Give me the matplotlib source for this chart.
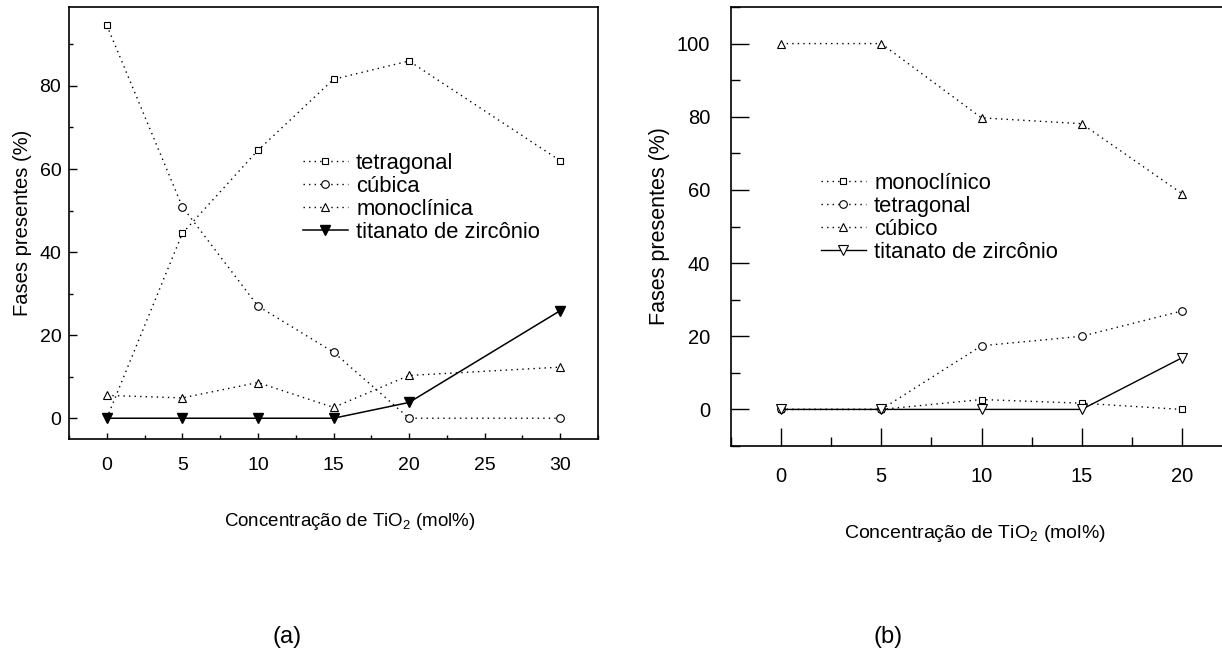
import matplotlib; matplotlib.use("Agg")
import matplotlib.pyplot as plt
from matplotlib.ticker import MultipleLocator

plt.rcParams['font.family'] = ['Liberation Sans', 'DejaVu Sans']
plt.rcParams['mathtext.fontset'] = 'custom'
plt.rcParams['mathtext.rm'] = 'Liberation Sans'

# (a)
xa = [0, 5, 10, 15, 20, 30]
a_tetragonal = [0, 44.5, 64.5, 81.6, 86.0, 62.0]
a_cubica = [94.6, 50.9, 27.0, 15.9, 0, 0]
a_monoclinica = [5.5, 4.9, 8.6, 2.6, 10.3, 12.3]
a_titanato = [0, 0, 0, 0, 3.8, 25.9]
a_labels = ["tetragonal", "cúbica", "monoclínica", "titanato de zircônio"]

# (b)
xb = [0, 5, 10, 15, 20]
b_monoclinico = [0, 0, 2.7, 1.7, 0]
b_tetragonal = [0, 0, 17.4, 20.0, 26.9]
b_cubico = [100, 100, 79.7, 78.1, 59.0]
b_titanato = [0, 0, 0, 0, 14.1]
b_labels = ["monoclínico", "tetragonal", "cúbico", "titanato de zircônio"]

W, H = 1222, 655
fig = plt.figure(figsize=(W / 100, H / 100), dpi=100)
fig.patch.set_facecolor("white")

dot = (0, (1, 3))
mk = dict(color="black", markerfacecolor="white", markeredgecolor="black",
          markeredgewidth=0.8, lw=1.0)


def px_axes(l, t, r, b):
    return fig.add_axes([l / W, 1 - b / H, (r - l) / W, (b - t) / H])


def fig_pt(x, y):
    return (x / W, 1 - y / H)


leg_kw = dict(loc="upper left", bbox_transform=fig.transFigure, frameon=False,
              fontsize=15.8, handlelength=2.05, handletextpad=0.37,
              labelspacing=0.09, borderpad=0, borderaxespad=0)

# ---------- (a) ----------
ax = px_axes(69, 7, 598, 439)
ax.plot(xa, a_tetragonal, ls=dot, marker="s", ms=5, markevery=list(range(1, 6)), label=a_labels[0], **mk)
ax.plot(xa, a_cubica, ls=dot, marker="o", ms=5.5, markevery=list(range(1, 6)), label=a_labels[1], **mk)
ax.plot(xa[:1], a_cubica[:1], ls="none", marker="s", ms=5, **mk)
ax.plot(xa, a_monoclinica, ls=dot, marker="^", ms=6, label=a_labels[2], **mk)
ax.plot(xa, a_titanato, ls="-", marker="v", ms=7, color="black", lw=1.1, label=a_labels[3])
ax.set_xlim(-2.5, 32.5)
ax.set_ylim(-5, 99)
ax.xaxis.set_major_locator(MultipleLocator(5))
ax.xaxis.set_minor_locator(MultipleLocator(2.5))
ax.yaxis.set_major_locator(MultipleLocator(20))
ax.yaxis.set_minor_locator(MultipleLocator(10))
ax.tick_params(which="major", direction="in", length=5.5, width=1, labelsize=14, pad=5.5)
ax.tick_params(axis="x", which="major", length=4.5, pad=13)
ax.tick_params(which="minor", direction="in", length=3, width=1)
for s in ax.spines.values():
    s.set_linewidth(1.2)
ax.set_ylabel("Fases presentes (%)", fontsize=14.5)
ax.set_xlabel("Concentração de TiO$_2$ (mol%)", fontsize=13.5)
ax.yaxis.set_label_coords(-(69 - 23) / 529, 0.5)
ax.yaxis.label.set_va("center")
ax.xaxis.set_label_coords((350 - 69) / 529, -(521 - 439) / 432)
ax.xaxis.label.set_va("center")
ax.legend(bbox_to_anchor=fig_pt(303, 153), **leg_kw)

# ---------- (b) ----------
bx = px_axes(731, 7, 1232, 446)
bx.plot(xb, b_monoclinico, ls=dot, marker="s", ms=5, label=b_labels[0], **mk)
bx.plot(xb, b_tetragonal, ls=dot, marker="o", ms=5.5, label=b_labels[1], **mk)
bx.plot(xb, b_cubico, ls=dot, marker="^", ms=6, label=b_labels[2], **mk)
bx.plot(xb, b_titanato, ls="-", marker="v", ms=7, label=b_labels[3], **mk)
bx.set_xlim(-2.5, 22.5)
bx.set_ylim(-10, 110)
bx.xaxis.set_major_locator(MultipleLocator(5))
bx.xaxis.set_minor_locator(MultipleLocator(2.5))
bx.yaxis.set_major_locator(MultipleLocator(20))
bx.yaxis.set_minor_locator(MultipleLocator(10))
bx.tick_params(which="major", direction="in", length=12.7, width=1, labelsize=14.5, pad=15)
bx.tick_params(axis="x", which="major", pad=15)
bx.tick_params(which="minor", direction="in", length=6.7, width=1)
bx.spines["right"].set_visible(False)
for s in bx.spines.values():
    s.set_linewidth(1.2)
bx.set_ylabel("Fases presentes (%)", fontsize=15.5)
bx.set_xlabel("Concentração de TiO$_2$ (mol%)", fontsize=14)
bx.yaxis.set_label_coords(-(731 - 659) / 501, 0.5)
bx.yaxis.label.set_va("center")
bx.xaxis.set_label_coords((975 - 731) / 501, -(533 - 446) / 439)
bx.xaxis.label.set_va("center")
bx.legend(bbox_to_anchor=fig_pt(821, 173), **leg_kw)

fig.text(*fig_pt(287, 637), "(a)", fontsize=17, ha="center", va="center")
fig.text(*fig_pt(888, 637), "(b)", fontsize=17, ha="center", va="center")

fig.savefig("out.png", dpi=100)
